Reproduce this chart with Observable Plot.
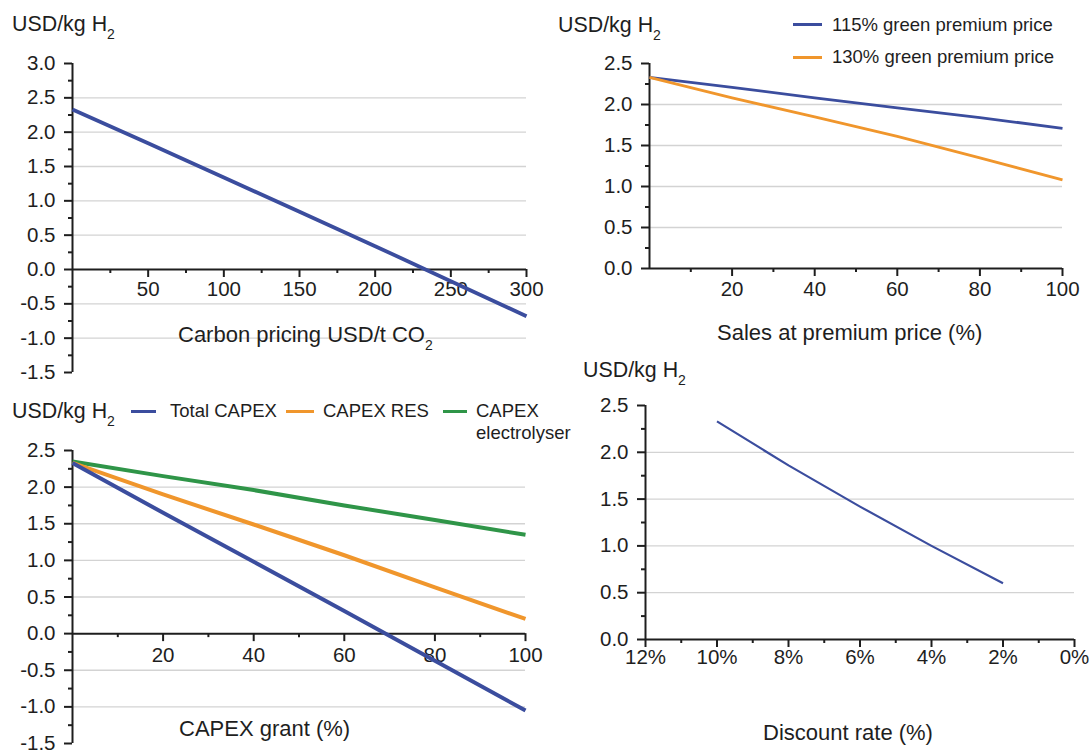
<!DOCTYPE html>
<html>
<head>
<meta charset="utf-8">
<script src="https://cdn.jsdelivr.net/npm/d3@7"></script>
<script src="https://cdn.jsdelivr.net/npm/@observablehq/plot@0.6"></script>
<style>
  html, body { margin: 0; padding: 0; background: #fff; }
  #root { position: relative; width: 1091px; height: 751px; overflow: hidden; font-family: "Liberation Sans", Arial, sans-serif; color: #1e1e1e; }
  .lbl { position: absolute; white-space: nowrap; line-height: 1; }
  .sub { position: relative; top: 8px; font-size: 14px; }
  .key { position: absolute; height: 3px; }
  .panel { position: absolute; }
  .panel svg { overflow: visible; }
</style>
</head>
<body>
<div id="root"></div>
<script>
// ---------- data ----------
// Panel A: carbon pricing
const carbonPrice = [0, 50, 100, 150, 200, 250, 300];
const carbonCost  = [2.33, 1.84, 1.34, 0.84, 0.34, -0.17, -0.68];

// Panel B: sales at premium price
const salesShare = [0, 20, 40, 60, 80, 100];
const cost115 = [2.33, 2.21, 2.08, 1.96, 1.84, 1.71];
const cost130 = [2.33, 2.08, 1.85, 1.61, 1.35, 1.08];
const premiumSeries = ["115% green premium price", "130% green premium price"];

// Panel C: CAPEX grant
const grantShare = [0, 20, 40, 60, 80, 100];
const totalCapex = [2.33, 1.65, 0.98, 0.31, -0.37, -1.05];
const capexRes   = [2.33, 1.90, 1.49, 1.07, 0.63, 0.20];
const capexEly   = [2.35, 2.15, 1.96, 1.75, 1.55, 1.35];
const capexSeries = ["Total CAPEX", "CAPEX RES", "CAPEX"];

// Panel D: discount rate
const discountRate = [10, 8, 6, 4, 2];
const discountCost = [2.33, 1.86, 1.42, 1.00, 0.60];

// tick labels
const ticksA = [50, 100, 150, 200, 250, 300];
const ticksPct = [20, 40, 60, 80, 100];
const ticksRate = [12, 10, 8, 6, 4, 2, 0];

// ---------- styles ----------
const ink = "#1e1e1e";
const blue = "#3b4d9e";
const orange = "#f0962c";
const green = "#2f9548";
const gridColor = "#d3d3d3";
const tickFont = 20.5;

const root = document.getElementById("root");
const pts = (xs, ys) => xs.map((x, i) => ({x, y: ys[i]}));
const range = (a, b, s) => d3.range(Math.round((b - a) / s) + 1).map(i => +(a + i * s).toFixed(3));

function panel(cfg) {
  const {left, top, w, h, mL, mR, mT, mB, xDomain, yDomain, yStep, grid, xMajor, xMinor, xFmt, xDy, series} = cfg;
  const x0 = xDomain[0];
  const yMajor = range(yDomain[0], yDomain[1], yStep);
  const yMinor = range(yDomain[0] + yStep / 2, yDomain[1] - yStep / 2, yStep);
  const chart = Plot.plot({
    width: w, height: h,
    marginLeft: mL, marginRight: mR, marginTop: mT, marginBottom: mB,
    x: {domain: xDomain, axis: null},
    y: {domain: yDomain, axis: null},
    style: {fontFamily: "Liberation Sans, Arial, sans-serif", color: ink, background: "transparent", overflow: "visible"},
    marks: [
      Plot.ruleY(grid, {x1: xDomain[0], x2: xDomain[1], stroke: gridColor, strokeWidth: 1.3}),
      // y axis
      Plot.ruleX([x0], {y1: yDomain[0], y2: yDomain[1], stroke: ink, strokeWidth: 2}),
      Plot.ruleY(yMajor, {x1: x0, x2: x0, insetLeft: -8, stroke: ink, strokeWidth: 2}),
      Plot.ruleY(yMinor, {x1: x0, x2: x0, insetLeft: -4, stroke: ink, strokeWidth: 2}),
      Plot.text(yMajor, {x: x0, y: d => d, text: d => d.toFixed(1), textAnchor: "end", dx: -17, fontSize: tickFont, fill: ink}),
      // x axis at y = 0
      Plot.ruleY([0], {x1: xDomain[0], x2: xDomain[1], stroke: ink, strokeWidth: 2}),
      Plot.ruleX(xMajor, {x: d => d, y1: 0, y2: 0, insetBottom: -8, stroke: ink, strokeWidth: 2}),
      Plot.ruleX(xMinor, {x: d => d, y1: 0, y2: 0, insetBottom: -4, stroke: ink, strokeWidth: 2}),
      Plot.text(xMajor, {x: d => d, y: 0, dy: xDy, text: xFmt, fontSize: tickFont, fill: ink}),
      // data
      ...series.map(s => Plot.line(pts(s.xs, s.ys), {x: "x", y: "y", stroke: s.color, strokeWidth: s.width, strokeLinecap: "butt"}))
    ]
  });
  const div = document.createElement("div");
  div.className = "panel";
  div.style.left = left + "px";
  div.style.top = top + "px";
  div.appendChild(chart);
  root.appendChild(div);
}

function label(html, left, cy, size) {
  const d = document.createElement("div");
  d.className = "lbl";
  d.style.left = left + "px";
  d.style.top = (cy - 0.49 * size) + "px";
  d.style.fontSize = size + "px";
  d.innerHTML = html;
  root.appendChild(d);
}
function key(color, x1, x2, cy) {
  const d = document.createElement("div");
  d.className = "key";
  d.style.left = x1 + "px";
  d.style.width = (x2 - x1) + "px";
  d.style.top = (cy - 1.5) + "px";
  d.style.background = color;
  root.appendChild(d);
}
const unit = 'USD/kg H<span class="sub">2</span>';

// ---------- Panel A ----------
panel({
  left: 0, top: 40, w: 560, h: 345, mL: 72, mR: 34, mT: 23, mB: 13,
  xDomain: [0, 300], yDomain: [-1.5, 3.0], yStep: 0.5,
  grid: [-1.0, -0.5, 0.5, 1.0, 1.5, 2.0, 2.5],
  xMajor: ticksA, xMinor: [25, 75, 125, 175, 225, 275], xFmt: d => String(d), xDy: 20,
  series: [{xs: carbonPrice, ys: carbonCost, color: blue, width: 3.8}]
});
label(unit, 12, 24, 21.4);
label('Carbon pricing USD/t CO<span class="sub">2</span>', 178, 335, 22);

// ---------- Panel B ----------
panel({
  left: 545, top: 40, w: 546, h: 240, mL: 104, mR: 29, mT: 23, mB: 12,
  xDomain: [0, 100], yDomain: [0, 2.5], yStep: 0.5,
  grid: [0.5, 1.0, 1.5, 2.0],
  xMajor: ticksPct, xMinor: [10, 30, 50, 70, 90], xFmt: d => String(d), xDy: 21,
  series: [
    {xs: salesShare, ys: cost115, color: blue, width: 2.8},
    {xs: salesShare, ys: cost130, color: orange, width: 2.8}
  ]
});
label(unit, 558, 25, 21.4);
key(blue, 793, 822, 24);
label(premiumSeries[0], 832, 25, 18.5);
key(orange, 793, 822, 57);
label(premiumSeries[1], 832, 57, 18.5);
label('Sales at premium price (%)', 717, 333, 22);

// ---------- Panel C ----------
panel({
  left: 0, top: 430, w: 560, h: 321, mL: 72, mR: 35, mT: 20, mB: 8,
  xDomain: [0, 100], yDomain: [-1.5, 2.5], yStep: 0.5,
  grid: [-1.0, -0.5, 0.5, 1.0, 1.5, 2.0],
  xMajor: ticksPct, xMinor: [10, 30, 50, 70, 90], xFmt: d => String(d), xDy: 22,
  series: [
    {xs: grantShare, ys: capexEly, color: green, width: 4},
    {xs: grantShare, ys: capexRes, color: orange, width: 4},
    {xs: grantShare, ys: totalCapex, color: blue, width: 4}
  ]
});
label(unit, 12, 411, 21.4);
key(blue, 131, 156, 411);
label(capexSeries[0], 170, 411, 18.5);
key(orange, 286, 314, 411);
label(capexSeries[1], 323, 411, 18.5);
key(green, 443, 467, 411);
label(capexSeries[2], 476, 411, 18.5);
label('electrolyser', 476, 433, 18.5);
label('CAPEX grant (%)', 179, 729, 22);

// ---------- Panel D ----------
panel({
  left: 545, top: 380, w: 546, h: 280, mL: 100, mR: 17, mT: 25, mB: 21,
  xDomain: [12, 0], yDomain: [0, 2.5], yStep: 0.5,
  grid: [0.5, 1.0, 1.5, 2.0],
  xMajor: ticksRate, xMinor: [11, 9, 7, 5, 3, 1], xFmt: d => d + "%", xDy: 18,
  series: [{xs: discountRate, ys: discountCost, color: blue, width: 2.2}]
});
label(unit, 583, 370, 21.4);
label('Discount rate (%)', 763, 733, 22);
</script>
</body>
</html>
